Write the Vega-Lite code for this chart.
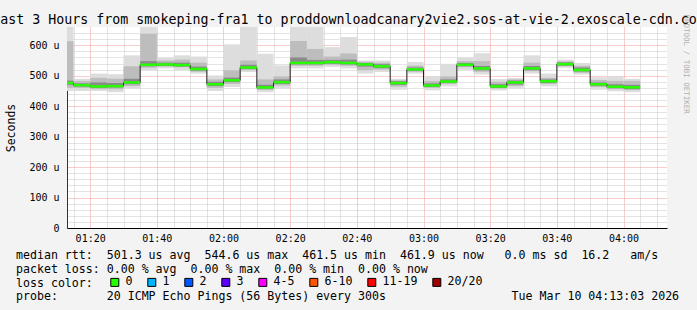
{
  "$schema": "https://vega.github.io/schema/vega-lite/v6.json",
  "width": 600,
  "height": 201,
  "autosize": {"type": "none"},
  "padding": {"left": 67, "top": 27, "right": 30, "bottom": 82},
  "background": "#f3f3f3",
  "config": {"view": {"fill": "white", "stroke": null}, "font": "DejaVu Sans Mono"},
  "title": {
    "text": "Last 3 Hours from smokeping-fra1 to proddownloadcanary2vie2.sos-at-vie-2.exoscale-cdn.com",
    "font": "DejaVu Sans Mono", "fontSize": 13.3, "fontWeight": "normal", "color": "black",
    "anchor": "middle", "frame": "group", "dx": -18.5, "dy": 28, "offset": 4.5, "baseline": "alphabetic", "limit": 900
  },
  "data": {"values": [
    {"t": "2026-03-10T01:10:00Z", "t2": "2026-03-10T01:15:00Z", "lo": 450, "mlo": 460, "dlo": 470, "med": 476, "dhi": 484, "mhi": 613, "hi": 660, "loss": "0"},
    {"t": "2026-03-10T01:15:00Z", "t2": "2026-03-10T01:20:00Z", "lo": 450, "mlo": 460, "dlo": 464, "med": 469, "dhi": 475, "mhi": 483, "hi": 490, "loss": "0"},
    {"t": "2026-03-10T01:20:00Z", "t2": "2026-03-10T01:25:00Z", "lo": 450, "mlo": 456, "dlo": 460, "med": 465, "dhi": 478, "mhi": 493, "hi": 507, "loss": "0"},
    {"t": "2026-03-10T01:25:00Z", "t2": "2026-03-10T01:30:00Z", "lo": 446, "mlo": 456, "dlo": 461, "med": 466, "dhi": 476, "mhi": 490, "hi": 505, "loss": "0"},
    {"t": "2026-03-10T01:30:00Z", "t2": "2026-03-10T01:35:00Z", "lo": 457, "mlo": 466, "dlo": 472, "med": 478, "dhi": 490, "mhi": 531, "hi": 567, "loss": "0"},
    {"t": "2026-03-10T01:35:00Z", "t2": "2026-03-10T01:40:00Z", "lo": 518, "mlo": 526, "dlo": 531, "med": 536, "dhi": 548, "mhi": 638, "hi": 660, "loss": "0"},
    {"t": "2026-03-10T01:40:00Z", "t2": "2026-03-10T01:45:00Z", "lo": 524, "mlo": 530, "dlo": 532, "med": 537, "dhi": 543, "mhi": 550, "hi": 559, "loss": "0"},
    {"t": "2026-03-10T01:45:00Z", "t2": "2026-03-10T01:50:00Z", "lo": 518, "mlo": 528, "dlo": 530, "med": 535, "dhi": 543, "mhi": 553, "hi": 567, "loss": "0"},
    {"t": "2026-03-10T01:50:00Z", "t2": "2026-03-10T01:55:00Z", "lo": 507, "mlo": 513, "dlo": 517, "med": 522, "dhi": 530, "mhi": 543, "hi": 563, "loss": "0"},
    {"t": "2026-03-10T01:55:00Z", "t2": "2026-03-10T02:00:00Z", "lo": 450, "mlo": 460, "dlo": 466, "med": 472, "dhi": 480, "mhi": 488, "hi": 501, "loss": "0"},
    {"t": "2026-03-10T02:00:00Z", "t2": "2026-03-10T02:05:00Z", "lo": 463, "mlo": 473, "dlo": 479, "med": 485, "dhi": 494, "mhi": 518, "hi": 603, "loss": "0"},
    {"t": "2026-03-10T02:05:00Z", "t2": "2026-03-10T02:10:00Z", "lo": 512, "mlo": 518, "dlo": 522, "med": 527, "dhi": 536, "mhi": 550, "hi": 660, "loss": "0"},
    {"t": "2026-03-10T02:10:00Z", "t2": "2026-03-10T02:15:00Z", "lo": 446, "mlo": 453, "dlo": 457, "med": 461.5, "dhi": 470, "mhi": 488, "hi": 572, "loss": "0"},
    {"t": "2026-03-10T02:15:00Z", "t2": "2026-03-10T02:20:00Z", "lo": 457, "mlo": 468, "dlo": 473, "med": 479, "dhi": 488, "mhi": 498, "hi": 534, "loss": "0"},
    {"t": "2026-03-10T02:20:00Z", "t2": "2026-03-10T02:25:00Z", "lo": 524, "mlo": 533, "dlo": 537, "med": 542, "dhi": 560, "mhi": 614, "hi": 660, "loss": "0"},
    {"t": "2026-03-10T02:25:00Z", "t2": "2026-03-10T02:30:00Z", "lo": 524, "mlo": 533, "dlo": 537, "med": 542, "dhi": 552, "mhi": 588, "hi": 660, "loss": "0"},
    {"t": "2026-03-10T02:30:00Z", "t2": "2026-03-10T02:35:00Z", "lo": 529, "mlo": 536, "dlo": 539, "med": 544.6, "dhi": 552, "mhi": 563, "hi": 594, "loss": "0"},
    {"t": "2026-03-10T02:35:00Z", "t2": "2026-03-10T02:40:00Z", "lo": 524, "mlo": 533, "dlo": 537, "med": 542, "dhi": 553, "mhi": 573, "hi": 627, "loss": "0"},
    {"t": "2026-03-10T02:40:00Z", "t2": "2026-03-10T02:45:00Z", "lo": 507, "mlo": 518, "dlo": 530, "med": 537, "dhi": 542, "mhi": 546, "hi": 550, "loss": "0"},
    {"t": "2026-03-10T02:45:00Z", "t2": "2026-03-10T02:50:00Z", "lo": 512, "mlo": 520, "dlo": 525, "med": 531, "dhi": 538, "mhi": 543, "hi": 550, "loss": "0"},
    {"t": "2026-03-10T02:50:00Z", "t2": "2026-03-10T02:55:00Z", "lo": 454, "mlo": 464, "dlo": 470, "med": 476, "dhi": 482, "mhi": 485, "hi": 490, "loss": "0"},
    {"t": "2026-03-10T02:55:00Z", "t2": "2026-03-10T03:00:00Z", "lo": 507, "mlo": 513, "dlo": 516, "med": 521, "dhi": 527, "mhi": 533, "hi": 545, "loss": "0"},
    {"t": "2026-03-10T03:00:00Z", "t2": "2026-03-10T03:05:00Z", "lo": 452, "mlo": 460, "dlo": 463, "med": 468, "dhi": 475, "mhi": 483, "hi": 498, "loss": "0"},
    {"t": "2026-03-10T03:05:00Z", "t2": "2026-03-10T03:10:00Z", "lo": 465, "mlo": 473, "dlo": 476, "med": 481, "dhi": 488, "mhi": 498, "hi": 539, "loss": "0"},
    {"t": "2026-03-10T03:10:00Z", "t2": "2026-03-10T03:15:00Z", "lo": 519, "mlo": 528, "dlo": 531, "med": 536, "dhi": 542, "mhi": 548, "hi": 559, "loss": "0"},
    {"t": "2026-03-10T03:15:00Z", "t2": "2026-03-10T03:20:00Z", "lo": 504, "mlo": 513, "dlo": 518, "med": 524, "dhi": 532, "mhi": 548, "hi": 574, "loss": "0"},
    {"t": "2026-03-10T03:20:00Z", "t2": "2026-03-10T03:25:00Z", "lo": 452, "mlo": 458, "dlo": 460, "med": 465, "dhi": 472, "mhi": 480, "hi": 489, "loss": "0"},
    {"t": "2026-03-10T03:25:00Z", "t2": "2026-03-10T03:30:00Z", "lo": 457, "mlo": 466, "dlo": 471, "med": 478, "dhi": 484, "mhi": 488, "hi": 493, "loss": "0"},
    {"t": "2026-03-10T03:30:00Z", "t2": "2026-03-10T03:35:00Z", "lo": 507, "mlo": 515, "dlo": 518, "med": 524, "dhi": 532, "mhi": 543, "hi": 567, "loss": "0"},
    {"t": "2026-03-10T03:35:00Z", "t2": "2026-03-10T03:40:00Z", "lo": 465, "mlo": 473, "dlo": 476, "med": 482, "dhi": 488, "mhi": 493, "hi": 507, "loss": "0"},
    {"t": "2026-03-10T03:40:00Z", "t2": "2026-03-10T03:45:00Z", "lo": 526, "mlo": 531, "dlo": 533, "med": 538, "dhi": 544, "mhi": 547, "hi": 553, "loss": "0"},
    {"t": "2026-03-10T03:45:00Z", "t2": "2026-03-10T03:50:00Z", "lo": 504, "mlo": 510, "dlo": 514, "med": 519, "dhi": 527, "mhi": 533, "hi": 542, "loss": "0"},
    {"t": "2026-03-10T03:50:00Z", "t2": "2026-03-10T03:55:00Z", "lo": 454, "mlo": 463, "dlo": 467, "med": 472, "dhi": 478, "mhi": 486, "hi": 495, "loss": "0"},
    {"t": "2026-03-10T03:55:00Z", "t2": "2026-03-10T04:00:00Z", "lo": 449, "mlo": 456, "dlo": 459, "med": 464, "dhi": 472, "mhi": 483, "hi": 498, "loss": "0"},
    {"t": "2026-03-10T04:00:00Z", "t2": "2026-03-10T04:05:00Z", "lo": 446, "mlo": 453, "dlo": 456, "med": 461.9, "dhi": 470, "mhi": 483, "hi": 490, "loss": "0"}
  ]},
  "resolve": {"axis": {"y": "independent"}},
  "layer": [
    {
      "mark": {"type": "rect", "color": "#dddddd", "clip": true},
      "encoding": {
        "x": {"field": "t", "type": "temporal",
          "scale": {"type": "utc", "nice": false, "domain": [
            {"year": 2026, "month": 3, "date": 10, "hours": 1, "minutes": 13, "seconds": 3, "utc": true},
            {"year": 2026, "month": 3, "date": 10, "hours": 4, "minutes": 13, "seconds": 3, "utc": true}]},
          "axis": {
            "tickCount": 36,
            "labelExpr": "((+datum.value) / 60000) % 20 == 0 ? utcFormat(datum.value, '%H:%M') : ''",
            "labelFont": "DejaVu Sans Mono", "labelFontSize": 10, "labelColor": "black",
            "labelPadding": 5, "labelOverlap": false, "labelFlush": false, "labelBound": false,
            "ticks": false,
            "domainColor": "black", "domainWidth": 1,
            "grid": true, "gridDash": [1, 1], "gridWidth": 1,
            "gridColor": {"condition": {"test": "((+datum.value) / 60000) % 20 == 0", "value": "#f49a9a"}, "value": "#c8c8c8"},
            "title": [
              "median\u00a0rtt:\u00a0\u00a0501.3\u00a0us\u00a0avg\u00a0\u00a0544.6\u00a0us\u00a0max\u00a0\u00a0461.5\u00a0us\u00a0min\u00a0\u00a0461.9\u00a0us\u00a0now\u00a0\u00a0\u00a00.0\u00a0ms\u00a0sd\u00a0\u00a016.2\u00a0\u00a0\u00a0am/s",
              "packet\u00a0loss:\u00a00.00\u00a0%\u00a0avg\u00a0\u00a00.00\u00a0%\u00a0max\u00a0\u00a00.00\u00a0%\u00a0min\u00a0\u00a00.00\u00a0%\u00a0now",
              "loss\u00a0color:",
              "probe:\u00a0\u00a0\u00a0\u00a0\u00a0\u00a0\u00a020\u00a0ICMP\u00a0Echo\u00a0Pings\u00a0(56\u00a0Bytes)\u00a0every\u00a0300s\u00a0\u00a0\u00a0\u00a0\u00a0\u00a0\u00a0\u00a0\u00a0\u00a0\u00a0\u00a0\u00a0\u00a0\u00a0\u00a0\u00a0\u00a0Tue\u00a0Mar\u00a010\u00a004:13:03\u00a02026"
            ],
            "titleFont": "DejaVu Sans Mono", "titleFontSize": 11.6, "titleFontWeight": "normal", "titleColor": "black",
            "titleLineHeight": 13.7, "titleAnchor": "start", "titleAlign": "left", "titleBaseline": "top",
            "titleX": -51.5, "titleY": 21.8, "titleLimit": 1000
          }},
        "x2": {"field": "t2"},
        "y": {"field": "lo", "type": "quantitative",
          "scale": {"domain": [0, 660], "nice": false, "zero": false},
          "axis": {
            "values": [0, 20, 40, 60, 80, 100, 120, 140, 160, 180, 200, 220, 240, 260, 280, 300, 320, 340, 360, 380, 400, 420, 440, 460, 480, 500, 520, 540, 560, 580, 600, 620, 640],
            "labelExpr": "datum.value % 100 == 0 ? (datum.value == 0 ? '0\u00a0\u00a0' : datum.value + '\u00a0u') : ''",
            "labelFont": "DejaVu Sans Mono", "labelFontSize": 10, "labelColor": "black",
            "labelPadding": 8, "labelOverlap": false, "labelFlush": false, "labelBound": false,
            "ticks": false,
            "domainColor": "#333333", "domainWidth": 1,
            "grid": true, "gridDash": [1, 1], "gridWidth": 1,
            "gridColor": {"condition": {"test": "datum.value % 100 == 0", "value": "#f49a9a"}, "value": "#c8c8c8"},
            "title": "Seconds",
            "titleFont": "DejaVu Sans Mono", "titleFontSize": 11.5, "titleFontWeight": "normal", "titleColor": "black",
            "titleAngle": -90, "titleAlign": "center", "titleBaseline": "alphabetic",
            "titleX": -53, "titleY": 100.5
          }},
        "y2": {"field": "hi"}
      }
    },
    {
      "mark": {"type": "rect", "color": "#bdbdbd", "clip": true},
      "encoding": {
        "x": {"field": "t", "type": "temporal"},
        "x2": {"field": "t2"},
        "y": {"field": "mlo", "type": "quantitative", "axis": null},
        "y2": {"field": "mhi"}
      }
    },
    {
      "mark": {"type": "rect", "color": "#8a8a8a", "clip": true},
      "encoding": {
        "x": {"field": "t", "type": "temporal"},
        "x2": {"field": "t2"},
        "y": {"field": "dlo", "type": "quantitative", "axis": null},
        "y2": {"field": "dhi"}
      }
    },
    {
      "mark": {"type": "line", "interpolate": "step-after", "color": "#202020", "strokeWidth": 1, "clip": true},
      "encoding": {
        "x": {"field": "t", "type": "temporal"},
        "y": {"field": "med", "type": "quantitative", "axis": null}
      }
    },
    {
      "mark": {"type": "rule", "strokeWidth": 2.5, "clip": true, "color": "#26ff00"},
      "encoding": {
        "x": {"field": "t", "type": "temporal"},
        "x2": {"field": "t2"},
        "y": {"field": "med", "type": "quantitative", "axis": null}
      }
    },
    {
      "mark": {"type": "point", "shape": "square", "filled": true, "size": 0, "clip": true},
      "encoding": {
        "x": {"field": "t", "type": "temporal"},
        "y": {"field": "med", "type": "quantitative", "axis": null},
        "color": {"field": "loss", "type": "nominal",
          "scale": {"domain": ["0", "1", "2", "3", "4-5", "6-10", "11-19", "20/20"],
                    "range": ["#26ff00", "#00b8ff", "#0059ff", "#5e00ff", "#ff00ff", "#ff5500", "#ff0000", "#a00000"]},
          "legend": {
            "orient": "none", "legendX": 42, "legendY": 249.5, "direction": "horizontal", "title": null,
            "padding": 0, "symbolType": "square", "symbolSize": 64, "symbolStrokeWidth": 1, "symbolStrokeColor": "black", "symbolOpacity": 1,
            "labelFont": "DejaVu Sans Mono", "labelFontSize": 11.6, "labelColor": "black",
            "labelOffset": 5, "columnPadding": 12, "labelLimit": 300
          }}
      }
    },
    {
      "data": {"values": [{}]},
      "mark": {"type": "rule", "opacity": 0},
      "encoding": {
        "y": {"datum": 0, "type": "quantitative",
          "axis": {"orient": "right", "title": "RRDTOOL / TOBI OETIKER", "labels": false, "ticks": false, "domain": false, "grid": false,
            "titleAngle": 90, "titleX": 16.5, "titleY": -13, "titleAlign": "left", "titleBaseline": "alphabetic",
            "titleFont": "DejaVu Sans Mono", "titleFontSize": 7.5, "titleFontWeight": "normal", "titleColor": "#b0b0b0"}}
      }
    }
  ]
}
